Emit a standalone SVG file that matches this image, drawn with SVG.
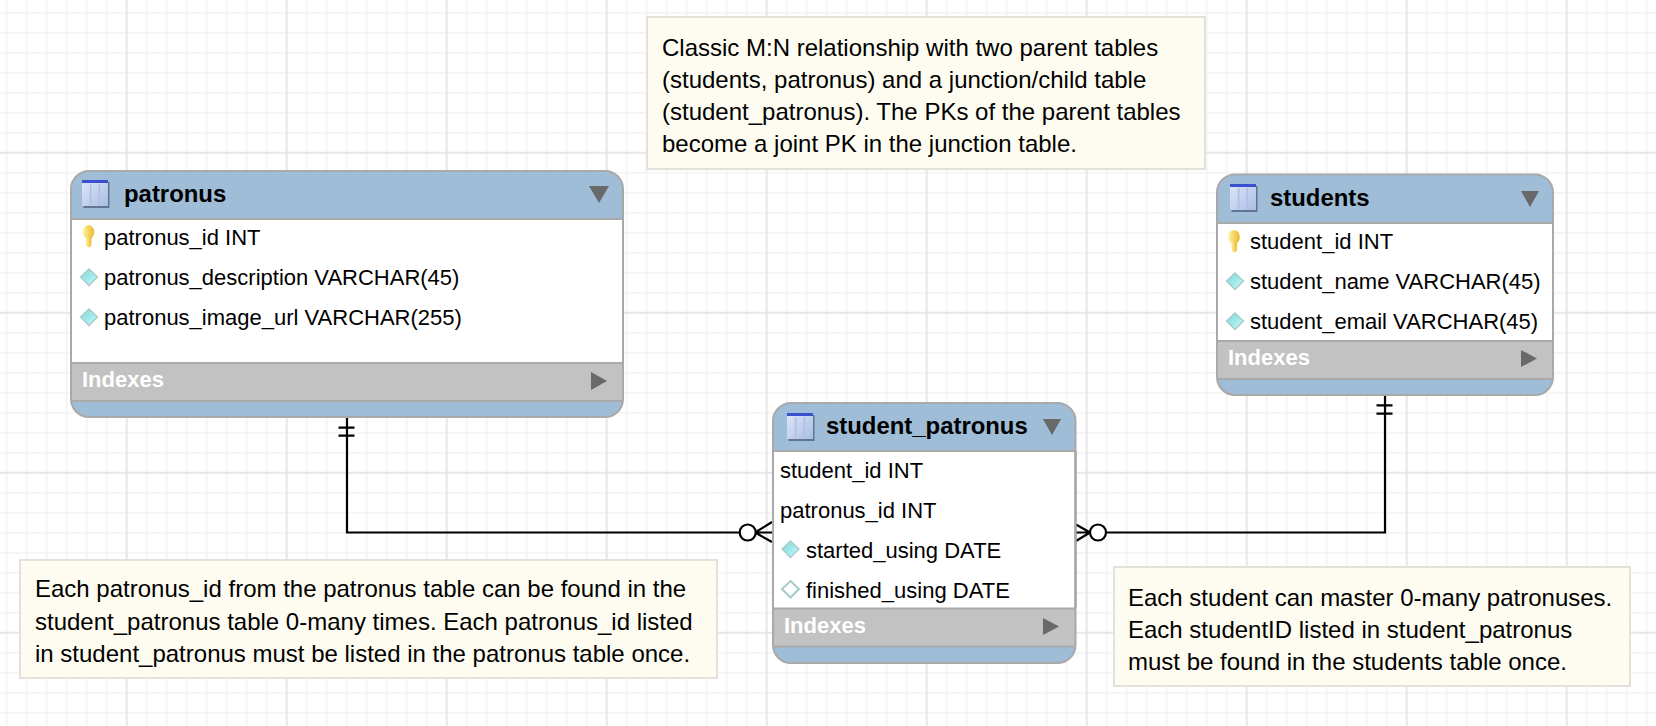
<svg xmlns="http://www.w3.org/2000/svg" width="1656" height="726" viewBox="0 0 1656 726">
<style>
text{font-family:"Liberation Sans",Arial,sans-serif;fill:#000}
.row{font-size:22px}
.title{font-size:23.9px;font-weight:bold}
.idx{font-size:22px;font-weight:bold;fill:#fff}
.note{font-size:24px}
.noteBox{fill:#fefcf0;stroke:#e2e2da;stroke-width:2}
.frame{fill:none;stroke:#a9a9a9;stroke-width:2}
.idxBar{fill:#c2c2c2}
.sep{stroke:#a9a9a9;stroke-width:2;fill:none}
.side{stroke:#808080;stroke-width:2;fill:none}
.tri{fill:#696969}
.conn{fill:none;stroke:#000;stroke-width:2.2}
.circ{fill:#fff;stroke:#000;stroke-width:2.2}
</style>
<defs>
<pattern id="minor" patternUnits="userSpaceOnUse" width="20" height="20" x="-3.33" y="2.8"><path d="M10 0V20M0 10H20" stroke="#f2f2f2" stroke-width="1.5" fill="none"/></pattern>
<pattern id="major" patternUnits="userSpaceOnUse" width="160" height="160" x="116.67" y="142.8"><path d="M10 0V160M0 10H160" stroke="#e4e4e4" stroke-width="1.5" fill="none"/></pattern>
<linearGradient id="iconG" x1="0" y1="0" x2="1" y2="1"><stop offset="0" stop-color="#dfe7f6"/><stop offset="1" stop-color="#a9bde4"/></linearGradient>
<linearGradient id="diaG" x1="0" y1="0" x2="1" y2="1"><stop offset="0" stop-color="#7fd6dc"/><stop offset="1" stop-color="#c4fbfb"/></linearGradient>
<linearGradient id="keyG" x1="0" y1="0" x2="1" y2="0"><stop offset="0" stop-color="#fff2a0"/><stop offset="1" stop-color="#e8b92c"/></linearGradient>
<g id="icon">
<rect x="1.500" y="2" width="26" height="26" fill="#4d5d78" opacity=".75"/>
<rect x="0" y="0" width="26" height="26" fill="url(#iconG)"/>
<rect x="0" y="0" width="26" height="3" fill="#3a50cf"/>
<path d="M8.700 4V25M17.300 4V25" stroke="#aebfe6" stroke-width="1.500"/>
</g>
<g id="key">
<ellipse cx="0" cy="0" rx="5.800" ry="7" fill="url(#keyG)"/>
<path d="M-2.800 4h6l-.5 10l-2.300 1.500l-2.700-1.500z" fill="url(#keyG)"/>
</g>
<g id="dia">
<path d="M0 -8L8.500 0L0 8.500L-8.500 0Z" fill="url(#diaG)" stroke="#a9c9c9" stroke-width="1.300"/>
</g>
<g id="diaH">
<path d="M0 -8L8.500 0L0 8.500L-8.500 0Z" fill="#fff" stroke="#a5caca" stroke-width="2"/>
</g>
</defs>
<rect width="1656" height="726" fill="#fff"/>
<rect width="1656" height="726" fill="url(#minor)"/>
<rect width="1656" height="726" fill="url(#major)"/>

<g id="connectors">
<path class="conn" d="M347 417V532.500H772M338.500 427.700H354.500M338.500 435.700H354.500M755 532.500L772 522M755 532.500L772 542"/>
<circle class="circ" cx="747.700" cy="532.500" r="8"/>
<path class="conn" d="M1385 395V532.500H1076M1376.500 405.300H1392.500M1376.500 413.700H1392.500M1090 532.500L1076 524.500M1090 532.500L1076 541"/>
<circle class="circ" cx="1098" cy="532.500" r="8"/>
</g>

<g id="note-top">
<rect class="noteBox" x="647" y="17" width="558" height="152"/>
<text class="note" x="662" y="56">Classic M:N relationship with two parent tables</text>
<text class="note" x="662" y="88">(students, patronus) and a junction/child table</text>
<text class="note" x="662" y="120">(student_patronus). The PKs of the parent tables</text>
<text class="note" x="662" y="152">become a joint PK in the junction table.</text>
</g>
<g id="note-left">
<rect class="noteBox" x="20" y="560" width="697" height="118"/>
<text class="note" x="35" y="597">Each patronus_id from the patronus table can be found in the</text>
<text class="note" x="35" y="630">student_patronus table 0-many times. Each patronus_id listed</text>
<text class="note" x="35" y="662">in student_patronus must be listed in the patronus table once.</text>
</g>
<g id="note-right">
<rect class="noteBox" x="1114" y="567" width="516" height="119"/>
<text class="note" x="1128" y="606">Each student can master 0-many patronuses.</text>
<text class="note" x="1128" y="638">Each studentID listed in student_patronus</text>
<text class="note" x="1128" y="670">must be found in the students table once.</text>
</g>

<g id="table-patronus">
<rect x="71" y="171" width="552" height="246" rx="18" fill="#9fbdd7"/>
<rect x="71" y="219" width="552" height="144" fill="#fff"/>
<rect class="idxBar" x="71" y="363" width="552" height="38"/>
<path class="side" d="M71 219V363M623 219V363"/>
<path class="sep" d="M71 219H623M71 363H623M71 401H623"/>
<rect class="frame" x="71" y="171" width="552" height="246" rx="18"/>
<use href="#icon" x="82" y="180"/>
<text class="title" x="124" y="202">patronus</text>
<path class="tri" d="M589 186H609L599 203Z"/>
<use href="#key" x="88.500" y="232"/>
<text class="row" x="104" y="245">patronus_id INT</text>
<use href="#dia" x="89" y="277"/>
<text class="row" x="104" y="284.500">patronus_description VARCHAR(45)</text>
<use href="#dia" x="89" y="317"/>
<text class="row" x="104" y="325">patronus_image_url VARCHAR(255)</text>
<text class="idx" x="82" y="387">Indexes</text>
<path class="tri" d="M591 372L607 381L591 390Z"/>
</g>

<g id="table-students">
<rect x="1217" y="174.500" width="336" height="220.500" rx="18" fill="#9fbdd7"/>
<rect x="1217" y="223" width="336" height="118" fill="#fff"/>
<rect class="idxBar" x="1217" y="341" width="336" height="38"/>
<path class="side" d="M1217 223V341M1553 223V341"/>
<path class="sep" d="M1217 223H1553M1217 341H1553M1217 379H1553"/>
<rect class="frame" x="1217" y="174.500" width="336" height="220.500" rx="18"/>
<use href="#icon" x="1230" y="184"/>
<text class="title" x="1270" y="206">students</text>
<path class="tri" d="M1521 191H1539L1530 207Z"/>
<use href="#key" x="1234" y="237"/>
<text class="row" x="1250" y="249">student_id INT</text>
<use href="#dia" x="1235" y="281"/>
<text class="row" x="1250" y="288.500">student_name VARCHAR(45)</text>
<use href="#dia" x="1235" y="321"/>
<text class="row" x="1250" y="329">student_email VARCHAR(45)</text>
<text class="idx" x="1228" y="365">Indexes</text>
<path class="tri" d="M1521 350L1537 358.500L1521 367Z"/>
</g>

<g id="table-student_patronus">
<rect x="773" y="403" width="302.500" height="260" rx="18" fill="#9fbdd7"/>
<rect x="773" y="451" width="302.500" height="157.500" fill="#fff"/>
<rect class="idxBar" x="773" y="608.500" width="302.500" height="38"/>
<path class="side" d="M773 451V608M1075.500 451V608"/>
<path class="sep" d="M773 451H1075.500M773 608.500H1075.500M773 646.500H1075.500"/>
<rect class="frame" x="773" y="403" width="302.500" height="260" rx="18"/>
<use href="#icon" x="787" y="413"/>
<text class="title" x="826" y="434">student_patronus</text>
<path class="tri" d="M1043 419H1061L1052 435Z"/>
<text class="row" x="780" y="477.500">student_id INT</text>
<text class="row" x="780" y="517.500">patronus_id INT</text>
<use href="#dia" x="790.500" y="549"/>
<text class="row" x="806" y="557.500">started_using DATE</text>
<use href="#diaH" x="790.500" y="589"/>
<text class="row" x="806" y="597.500">finished_using DATE</text>
<text class="idx" x="784" y="633">Indexes</text>
<path class="tri" d="M1043 618L1059 626.500L1043 635Z"/>
</g>
</svg>
